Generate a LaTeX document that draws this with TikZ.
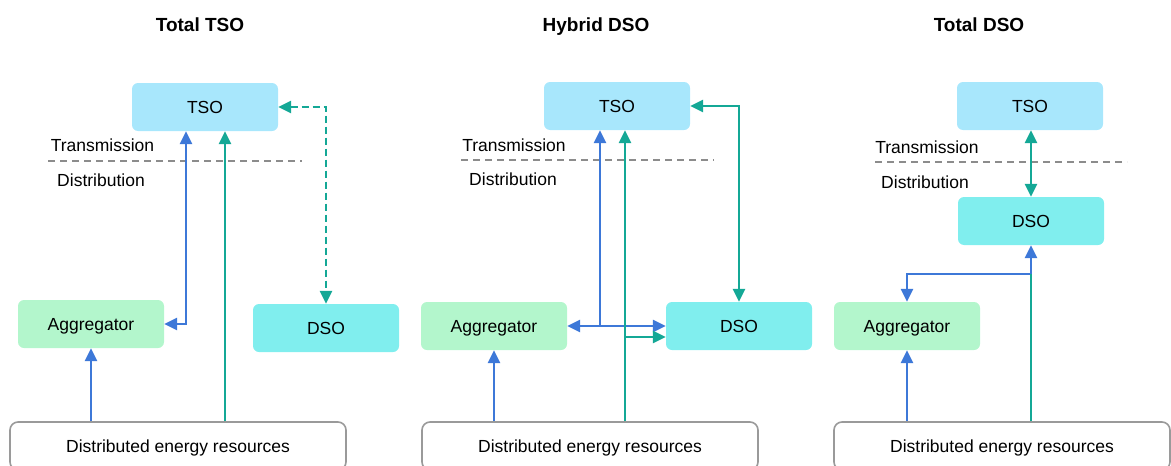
\documentclass[tikz,border=0pt]{standalone}
\usepackage{fontspec}
\setmainfont{Liberation Sans}
\usetikzlibrary{arrows.meta}

\definecolor{tsoblue}{HTML}{A8E7FC}
\definecolor{dsocyan}{HTML}{80EEEE}
\definecolor{agggreen}{HTML}{B3F6CC}
\definecolor{dergray}{HTML}{9A9A9A}
\definecolor{linegray}{HTML}{8C8C8C}
\definecolor{linkblue}{HTML}{3D78D8}
\definecolor{linkteal}{HTML}{14A896}

\begin{document}
\begin{tikzpicture}[
    x=1pt, y=-1pt,
    box/.style={rectangle, rounded corners=6pt, minimum width=146pt, minimum height=48pt, font=\fontsize{17.5}{20}\selectfont, text height=12.5pt, text depth=0pt},
    tsobox/.style={box, fill=tsoblue},
    dsobox/.style={box, fill=dsocyan},
    aggbox/.style={box, fill=agggreen},
    derbox/.style={box, rounded corners=8pt, draw=dergray, line width=1.6pt, fill=white, minimum width=336pt},
    title/.style={font=\fontsize{19}{22}\selectfont\bfseries, text height=13.6pt, text depth=0pt},
    zone/.style={font=\fontsize{17.5}{20}\selectfont, text height=12.5pt, text depth=0pt},
    boundary/.style={draw=linegray, line width=1.6pt, dash pattern=on 7pt off 5pt},
    bluelink/.style={draw=linkblue, line width=2.8pt},
    teallink/.style={draw=linkteal, line width=2.8pt},
    >={Triangle[length=13pt,width=12pt]}
]
\useasboundingbox (0,0) rectangle (1171,466);

% Total TSO
\node[title] (title1) at (200,25) {Total TSO};
\node[tsobox] (tso1) at (205,107) {TSO};
\node[zone] (trans1) at (102.5,145) {Transmission};
\node[zone] (dist1) at (101,180) {Distribution};
\coordinate (bl1) at (48,161);
\coordinate (br1) at (302,161);
\draw[boundary] (bl1) -- (br1);
\node[aggbox] (agg1) at (91,324) {Aggregator};
\node[dsobox] (dso1) at (326,328) {DSO};
\node[derbox] (der1) at (178,446) {Distributed energy resources};

% Hybrid DSO
\node[title] (title2) at (596,25) {Hybrid DSO};
\node[tsobox] (tso2) at (617,106) {TSO};
\node[zone] (trans2) at (514,145) {Transmission};
\node[zone] (dist2) at (513,179) {Distribution};
\coordinate (bl2) at (461,160);
\coordinate (br2) at (714,160);
\draw[boundary] (bl2) -- (br2);
\node[aggbox] (agg2) at (494,326) {Aggregator};
\node[dsobox] (dso2) at (739,326) {DSO};
\node[derbox] (der2) at (590,446) {Distributed energy resources};

% Total DSO
\node[title] (title3) at (979,25) {Total DSO};
\node[tsobox] (tso3) at (1030,106) {TSO};
\node[zone] (trans3) at (927,147) {Transmission};
\node[zone] (dist3) at (925,182) {Distribution};
\coordinate (bl3) at (875,162);
\coordinate (br3) at (1127,162);
\draw[boundary] (bl3) -- (br3);
\node[dsobox] (dso3) at (1031,221) {DSO};
\node[aggbox] (agg3) at (907,326) {Aggregator};
\node[derbox] (der3) at (1002,446) {Distributed energy resources};

% Relations, Total TSO
\draw[bluelink,<->] (agg1.east) -| ([xshift=-19pt]tso1.south);
\draw[bluelink,->] (agg1.south |- der1.north) -- (agg1.south);
\draw[teallink,->] ([xshift=47pt]der1.north) -- ([xshift=47pt]der1.north |- tso1.south);
\draw[teallink,dash pattern=on 7pt off 4pt,<->] (tso1.east) -| (dso1.north);

% Relations, Hybrid DSO
\coordinate (jb2) at (600,326);
\coordinate (jt2) at (625,337);
\draw[bluelink,->] (jb2) -- (jb2 |- tso2.south);
\draw[bluelink,<->] (agg2.east) -- (dso2.west);
\draw[bluelink,->] (agg2.south |- der2.north) -- (agg2.south);
\draw[teallink,->] (jt2 |- der2.north) -- (jt2 |- tso2.south);
\draw[teallink,->] (jt2) -- (jt2 -| dso2.west);
\draw[teallink,<->] (tso2.east) -| (dso2.north);

% Relations, Total DSO
\coordinate (j3) at (1031,274);
\draw[teallink,<->] (dso3.north |- tso3.south) -- (dso3.north);
\draw[bluelink,->] (j3) -- (dso3.south);
\draw[bluelink,->] (j3) -| (agg3.north);
\draw[teallink] (j3 |- der3.north) -- (j3);
\draw[bluelink,->] (agg3.south |- der3.north) -- (agg3.south);

\end{tikzpicture}
\end{document}
